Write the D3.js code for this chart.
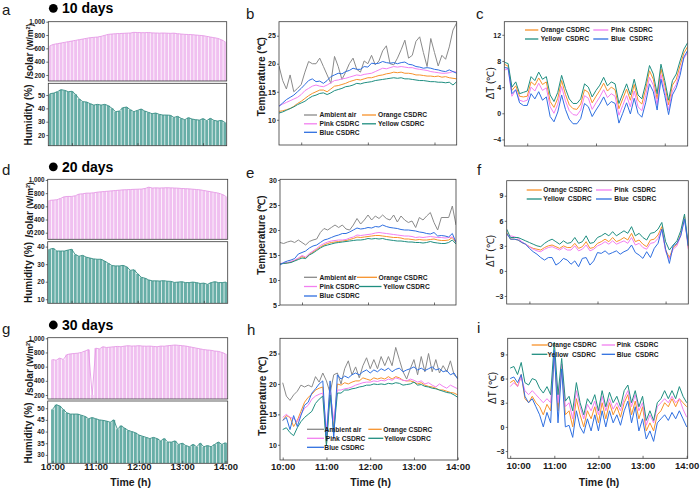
<!DOCTYPE html>
<html><head><meta charset="utf-8">
<script src="https://cdn.jsdelivr.net/npm/d3@7"></script>
<style>
body{margin:0;background:#fff;}
svg text{font-family:"Liberation Sans",Arial,Helvetica,sans-serif;}
</style></head>
<body><svg id="chart" width="700" height="488"></svg>
<script>
// ---------- DATA ----------
const minutes = [0,5,10,15,20,25,30,35,40,45,50,55,60,65,70,75,80,85,90,95,100,105,110,115,120,125,130,135,140,145,150,155,160,165,170,175,180,185,190,195,200,205,210,215,220,225,230,235,240];
const timeTicks = [0,60,120,180,240];
const timeLabels = ["10:00","11:00","12:00","13:00","14:00"];
const seriesNames = ["Ambient air","Orange CSDRC","Pink CSDRC","Yellow CSDRC","Blue CSDRC"];
const deltaNames = ["Orange CSDRC","Pink  CSDRC","Yellow  CSDRC","Blue  CSDRC"];
const dayTitles = ["10 days","20 days","30 days"];

// 10 days
const solar10 = [640,660,670,680,690,700,710,720,730,740,750,760,765,770,780,795,810,815,820,822,825,828,830,840,838,835,835,838,832,830,828,830,828,825,828,820,815,810,808,805,800,795,790,780,770,760,750,730,700];
const humid10 = [51.0,51.5,52.5,54.0,53.5,52.5,52.8,50.5,47.0,45.0,44.8,43.5,42.5,43.0,42.5,43.0,42.0,40.0,37.5,38.0,40.5,41.0,39.0,37.5,38.5,39.5,38.0,37.0,36.0,36.5,35.5,35.0,35.0,34.8,33.2,34.0,32.5,31.5,33.0,32.0,31.5,31.2,32.3,30.8,32.5,31.0,30.5,31.0,29.5];
const amb10 = [19.6,17.0,15.5,18.0,15.0,15.6,16.3,18.5,20.4,20.0,20.0,21.0,19.5,18.0,16.5,21.3,19.5,17.2,18.5,20.0,21.0,19.0,18.5,20.5,20.0,21.5,19.8,20.5,22.3,23.2,20.0,19.8,21.0,22.5,24.2,21.0,21.5,24.0,24.8,22.0,19.5,24.5,22.0,19.6,21.5,20.8,23.0,26.0,27.3];
const orange10 = [11.5,11.6,11.8,12.0,12.4,12.9,13.3,13.8,14.3,14.7,15.0,15.3,15.3,15.0,15.5,16.0,16.1,16.3,16.5,16.8,17.0,17.2,17.1,17.3,17.5,17.5,17.7,17.9,18.0,18.2,18.3,18.5,18.4,18.5,18.3,18.3,18.2,18.0,18.0,17.9,17.8,17.8,17.7,17.8,17.6,17.7,17.5,17.4,17.3];
const pink10 = [12.5,12.8,13.1,13.4,13.7,14.0,14.5,15.2,15.6,16.0,16.2,16.0,15.9,16.2,16.6,17.0,17.1,17.3,17.4,17.6,17.8,18.0,17.9,18.1,18.2,18.3,18.6,18.9,19.2,19.1,19.3,19.5,19.4,19.5,19.4,19.3,19.3,19.1,19.0,18.9,18.8,18.6,18.5,18.4,18.3,18.3,18.4,18.6,18.5];
const yellow10 = [11.2,11.4,11.7,12.0,12.3,12.7,13.0,13.3,13.8,14.2,14.4,14.7,14.8,14.5,14.8,15.2,15.4,15.6,15.9,16.0,16.2,16.5,16.4,16.6,16.7,16.8,17.0,17.1,17.2,17.3,17.4,17.5,17.4,17.5,17.3,17.3,17.2,17.1,17.0,17.0,16.9,16.8,16.8,16.7,16.7,16.6,16.7,16.2,16.8];
const blue10 = [12.4,13.0,13.6,14.0,14.4,15.0,15.6,16.3,17.0,17.3,16.8,16.9,16.5,17.0,17.7,18.0,18.3,18.2,18.6,18.8,19.2,19.0,19.0,19.5,19.4,20.1,20.0,20.1,20.4,20.2,20.1,20.2,20.0,20.2,20.3,19.9,19.8,19.5,19.4,19.2,19.3,19.2,19.0,18.9,18.7,18.6,18.9,18.6,18.3];
const dOrange10 = [7.5,7.2,3.5,4.2,2.6,2.5,2.6,4.8,4.3,5.4,4.4,4.8,1.8,0.9,2.3,5.0,2.9,1.3,0.7,0.6,1.4,3.6,3.2,1.6,2.6,3.5,4.6,3.4,4.0,3.6,0.7,2.2,3.7,2.0,4.4,2.0,1.4,3.7,6.5,5.2,2.2,6.8,4.3,1.3,4.3,5.2,7.3,9.2,10.2];
const dPink10 = [6.6,6.8,2.6,3.6,2.0,1.8,2.0,4.0,3.4,4.6,3.5,3.9,1.0,0.0,1.4,4.1,1.9,0.4,-0.2,-0.3,0.5,2.7,2.3,0.6,1.6,2.5,3.6,2.4,3.0,2.6,-0.3,1.2,2.7,1.0,3.4,1.0,0.4,2.7,5.5,4.3,1.3,5.9,3.4,0.5,3.4,4.4,6.5,8.4,9.3];
const dYellow10 = [7.8,7.6,4.0,4.8,3.0,3.2,3.4,5.6,5.0,6.3,5.2,5.6,2.8,1.8,3.2,5.8,3.8,2.2,1.5,1.5,2.2,4.5,4.0,2.5,3.5,4.3,5.5,4.2,4.8,4.5,1.5,3.0,4.5,2.8,5.2,2.8,2.2,4.5,7.3,6.0,3.0,7.5,5.0,2.0,5.0,6.0,8.0,9.8,10.8];
const dBlue10 = [7.0,6.9,3.0,3.6,1.6,1.2,1.2,3.0,2.2,3.3,2.0,2.5,-0.5,-1.3,0.2,2.8,0.6,-0.9,-1.6,-1.6,-0.8,1.5,1.0,-0.5,0.5,1.4,2.5,1.2,1.8,1.5,-1.5,0.0,1.6,-0.1,2.3,0.0,-0.6,1.6,4.5,3.3,0.5,5.2,2.7,-0.2,2.8,3.9,5.8,8.6,9.6];

// 20 days
const solar20 = [690,695,700,720,745,750,750,760,785,790,800,800,805,815,820,825,830,835,840,845,850,852,855,858,860,862,870,890,878,880,878,880,882,880,878,875,870,868,865,860,855,850,840,830,820,810,800,780,750];
const humid20 = [38.5,39.0,37.5,37.5,37.5,38.0,38.5,35.5,34.5,35.0,34.0,33.5,33.0,32.8,32.8,31.8,30.5,29.2,29.0,29.0,29.3,28.5,26.5,26.8,24.5,22.5,22.0,21.0,20.5,20.5,20.4,20.6,20.3,20.2,19.6,19.8,20.0,19.5,19.5,19.8,19.5,19.0,19.2,18.5,19.5,20.0,19.5,19.5,19.8];
const amb20 = [17.5,17.3,17.6,17.8,17.5,18.0,17.5,17.0,17.7,18.0,18.2,19.5,20.3,20.0,20.5,21.0,20.5,21.0,20.2,20.0,21.0,22.3,21.2,22.0,23.0,22.0,22.8,22.3,23.0,22.3,22.0,23.0,21.6,22.8,22.0,21.5,21.8,20.5,22.5,22.0,22.8,23.5,21.5,20.0,22.5,22.5,22.5,24.8,21.0];
const orange20 = [13.3,13.3,13.4,13.6,13.9,14.3,14.7,14.4,15.1,15.6,16.1,16.6,17.0,17.3,17.5,17.6,17.7,17.8,17.9,18.1,18.3,18.6,18.5,18.6,18.7,18.8,18.9,18.9,18.8,18.7,18.6,18.5,18.5,18.4,18.2,18.2,18.1,18.0,18.1,18.0,18.0,18.1,18.2,18.0,17.9,17.9,18.0,18.5,17.5];
const pink20 = [13.3,13.4,13.5,13.7,14.0,14.4,14.9,14.6,15.3,15.8,16.3,16.9,17.3,17.6,17.8,17.9,18.0,18.0,18.1,18.4,18.6,19.0,18.9,19.0,19.1,19.2,19.4,19.5,19.4,19.3,19.2,19.1,19.0,18.9,18.8,18.8,18.7,18.5,18.6,18.5,18.6,18.7,18.6,18.5,18.5,18.4,18.5,18.6,17.8];
const yellow20 = [13.2,13.3,13.4,13.5,13.8,14.1,14.4,14.3,15.0,15.4,15.9,16.4,16.8,17.0,17.2,17.4,17.5,17.6,17.7,17.8,17.9,18.0,18.0,18.1,18.3,18.2,18.3,18.2,18.3,18.1,18.0,17.9,17.8,17.8,17.7,17.6,17.6,17.5,17.5,17.4,17.5,17.7,17.5,17.4,17.3,17.3,17.5,18.0,17.2];
const blue20 = [13.0,13.5,13.8,14.0,14.3,15.2,15.5,15.8,16.4,16.8,17.0,17.5,18.0,18.2,18.5,18.8,19.0,19.3,19.3,19.6,20.0,20.4,20.2,20.3,20.5,20.4,20.7,20.6,21.0,20.7,20.5,20.4,20.3,20.1,20.0,20.0,19.9,19.8,19.6,19.5,19.3,19.2,19.5,18.8,18.9,18.8,18.6,19.3,17.5];
const dOrange20 = [4.6,3.8,3.8,3.7,3.4,3.2,2.9,2.7,2.6,2.5,2.8,3.0,3.1,2.9,2.7,3.0,2.8,2.8,3.3,2.7,2.9,3.5,2.7,2.8,3.3,3.5,3.8,3.5,4.0,3.5,3.7,4.0,3.7,4.5,3.5,3.7,3.2,2.9,3.7,3.8,4.3,5.3,2.5,1.6,2.8,3.2,4.4,6.5,2.8];
const dPink20 = [4.3,4.2,4.1,3.9,3.5,3.2,2.9,2.6,2.4,2.3,2.6,2.8,2.9,2.7,2.5,2.8,2.5,2.5,3.0,2.4,2.6,3.1,2.4,2.6,3.0,3.2,3.5,3.2,3.6,3.2,3.4,3.6,3.3,4.0,3.1,3.3,2.8,2.6,3.3,3.4,3.9,5.0,2.3,1.4,2.6,3.0,4.2,6.3,2.6];
const dYellow20 = [5.0,4.0,4.0,4.0,3.8,3.6,3.4,3.2,3.0,2.9,3.3,3.6,3.8,3.5,3.2,3.6,3.3,3.4,4.0,3.3,3.5,4.2,3.3,3.4,4.0,4.2,4.5,4.2,4.7,4.2,4.5,4.8,4.5,5.3,4.2,4.5,4.0,3.7,4.5,4.6,5.0,5.8,3.5,2.5,3.1,3.6,4.8,6.8,3.0];
const dBlue20 = [4.5,3.8,3.8,3.7,3.4,3.2,2.7,2.3,2.0,1.6,1.3,1.6,1.6,0.7,1.0,1.5,1.3,0.8,1.2,0.5,1.5,1.6,0.7,1.2,2.2,2.1,2.4,2.0,2.2,2.4,2.0,2.3,2.5,3.1,2.2,1.9,1.5,2.3,1.6,2.7,3.3,5.0,2.6,0.9,3.0,3.3,4.2,6.2,3.0];

// 30 days
const solar30 = [700,690,720,700,770,780,785,790,800,820,840,200,860,850,880,870,875,880,885,880,890,895,890,892,895,890,888,890,885,880,890,888,895,900,905,900,895,890,880,870,860,850,840,835,830,820,815,800,780];
const humid30 = [49.5,51.5,51.0,49.5,48.0,47.5,47.5,47.5,47.0,46.5,45.5,46.0,45.5,45.0,44.8,44.5,44.0,45.0,41.0,42.5,41.5,40.5,40.0,39.5,38.5,38.0,37.5,37.0,37.5,37.0,36.0,37.0,35.5,35.5,36.0,34.5,35.0,34.0,33.5,34.5,33.5,35.0,33.5,34.0,33.5,34.5,35.5,34.5,35.2];
const amb30 = [20.2,18.0,17.3,18.2,18.8,19.8,19.5,19.8,19.5,21.2,20.3,21.8,20.5,18.5,21.5,21.8,20.0,22.5,23.8,21.5,22.8,21.0,23.0,24.3,22.5,24.0,22.5,24.5,23.0,24.5,23.0,26.0,24.0,22.0,20.8,22.5,24.0,21.5,24.5,22.0,25.0,22.0,24.0,21.8,23.0,22.0,23.8,21.5,21.0];
const orange30 = [14.0,14.8,14.5,13.0,14.0,15.5,17.0,17.8,18.3,19.0,19.3,19.5,10.0,19.5,12.5,20.0,19.8,20.2,20.0,20.3,20.5,20.5,21.0,20.8,20.6,21.0,20.8,21.0,20.8,21.2,20.8,21.2,21.0,20.6,20.5,20.5,20.3,20.0,20.2,19.8,19.6,19.5,19.3,19.0,19.0,18.8,18.6,18.5,18.2];
const pink30 = [14.5,15.0,14.5,14.3,13.8,15.0,16.0,16.5,17.5,18.0,18.3,18.5,12.5,18.8,14.0,19.0,19.0,19.2,19.3,19.5,19.8,20.0,20.2,20.3,20.3,20.5,20.4,20.6,20.5,20.8,20.6,21.0,20.8,20.6,20.5,20.8,20.6,20.3,20.5,20.0,20.2,19.8,19.5,20.0,19.6,19.3,19.8,19.5,19.2];
const yellow30 = [12.5,12.8,12.0,11.5,12.8,13.8,14.5,15.0,15.5,16.8,17.5,18.0,9.8,18.2,12.0,18.5,18.5,19.0,19.0,19.2,19.3,19.5,19.6,19.8,19.8,20.0,19.9,20.0,19.9,20.1,20.0,20.2,20.1,19.8,19.9,20.0,20.3,19.8,19.9,19.6,19.5,19.3,19.2,19.0,18.8,18.6,18.5,18.2,17.8];
const blue30 = [14.0,14.5,12.5,14.8,13.0,14.8,16.5,17.0,18.5,19.2,20.0,20.5,10.8,20.5,11.0,21.5,20.8,21.3,21.0,21.5,21.8,21.5,22.0,22.3,21.8,22.3,22.0,22.5,22.2,22.6,22.0,22.4,22.6,22.0,22.3,22.5,22.8,22.3,22.6,22.2,22.5,22.8,22.3,22.5,22.0,22.2,21.5,21.8,20.8];
const dOrange30 = [5.5,5.8,5.0,6.5,3.5,3.0,3.8,3.0,2.5,1.5,2.8,2.0,9.0,2.0,7.5,1.5,2.0,0.0,3.5,1.5,0.0,2.0,1.0,2.5,0.5,3.0,1.0,3.0,1.5,2.5,1.2,3.0,4.0,1.5,3.2,1.0,2.5,-0.5,0.5,-0.5,1.5,2.0,3.0,2.5,3.5,2.5,3.5,3.0,2.5];
const dPink30 = [5.0,5.5,5.0,6.2,4.5,4.0,4.5,4.0,3.5,3.0,3.5,3.0,9.2,3.0,7.8,2.5,3.0,1.0,4.5,2.5,1.0,2.8,2.0,3.2,1.5,3.8,2.0,3.5,2.2,3.0,2.0,3.5,4.5,2.5,4.0,2.0,3.0,0.2,1.5,0.5,2.5,3.0,3.5,3.0,3.8,3.0,3.5,2.2,1.2];
const dYellow30 = [7.3,7.5,6.5,8.0,5.5,5.2,6.0,5.8,4.8,4.2,5.0,4.0,10.5,4.0,8.5,3.2,3.8,2.0,5.5,3.0,1.5,3.5,2.8,4.0,2.0,4.5,2.5,4.3,3.0,3.8,2.5,4.5,5.2,3.0,4.5,2.5,3.8,0.8,2.0,0.8,3.0,3.5,4.5,3.5,4.5,3.5,5.0,3.8,3.0];
const dBlue30 = [6.0,6.2,5.5,6.5,3.8,3.0,3.5,2.5,1.5,0.0,1.8,0.5,9.5,0.5,7.2,0.0,0.2,-1.3,2.0,0.0,-0.8,1.0,-0.5,1.5,-0.5,2.0,0.0,2.0,0.5,1.5,0.2,2.0,3.2,0.5,2.5,-0.5,1.0,-1.5,-0.5,-1.8,0.5,1.0,1.5,0.8,1.8,1.0,2.0,1.0,0.0];

// ---------- DRAWING ----------
const svg = d3.select("#chart");
const COL = {amb:"#8a8a8a", orange:"#f7922b", pink:"#f27ff0", yellow:"#1f8e80", blue:"#2f6fe0"};
const INK = "#1a1a1a";
let clipN = 0;

function frame(b){
  svg.append("rect").attr("x",b.x0).attr("y",b.y0).attr("width",b.x1-b.x0).attr("height",b.y1-b.y0)
    .attr("fill","none").attr("stroke","#3a3a3a").attr("stroke-width",0.8);
}
function clipFor(b){
  const id = "cp"+(clipN++);
  svg.append("clipPath").attr("id",id).append("rect")
    .attr("x",b.x0).attr("y",b.y0).attr("width",b.x1-b.x0).attr("height",b.y1-b.y0);
  return "url(#"+id+")";
}
function yAxis(y, x0, ticks, fs){
  const g = svg.append("g").attr("transform",`translate(${x0},0)`)
    .call(d3.axisLeft(y).tickValues(ticks).tickSizeInner(2).tickSizeOuter(0).tickPadding(1.2));
  g.select(".domain").remove();
  g.selectAll("line").attr("stroke","#333").attr("stroke-width",0.7);
  g.selectAll("text").attr("font-size",fs).attr("font-weight","bold").attr("fill",INK)
    .attr("font-family","Liberation Sans, Arial, sans-serif");
}
function xTicksPlain(x, y0, vals){
  const g = svg.append("g").attr("transform",`translate(0,${y0})`)
    .call(d3.axisBottom(x).tickValues(vals).tickFormat("").tickSizeInner(-2.5).tickSizeOuter(0));
  g.select(".domain").remove();
  g.selectAll("line").attr("stroke","#333").attr("stroke-width",0.7);
}
function xTime(x, y0, pad, nudge){
  const g = svg.append("g").attr("transform",`translate(0,${y0})`)
    .call(d3.axisBottom(x).tickValues(timeTicks).tickFormat((d,i)=>timeLabels[i])
      .tickSizeInner(-2.5).tickSizeOuter(0).tickPadding(pad));
  g.select(".domain").remove();
  g.selectAll("line").attr("stroke","#333").attr("stroke-width",0.7);
  g.selectAll("text").attr("font-size",9.5).attr("font-weight","bold").attr("fill",INK)
    .attr("font-family","Liberation Sans, Arial, sans-serif")
    .attr("dx",(d,i)=> i===0 ? nudge : 0);
}
function bars(x, y, vals, b, fill, edge){
  const step = x(5)-x(0), w = step*0.8;
  const g = svg.append("g").attr("clip-path",clipFor(b));
  g.selectAll("rect").data(vals).join("rect")
    .attr("x",(d,i)=>x(minutes[i])-w/2).attr("width",w)
    .attr("y",d=>y(d)).attr("height",d=>b.y1-y(d)).attr("fill",fill);
  g.append("path").datum(vals)
    .attr("d",d3.line().x((d,i)=>x(minutes[i])).y(d=>y(d)))
    .attr("fill","none").attr("stroke",edge).attr("stroke-width",0.9);
}
function lines(x, y, list, b){
  const g = svg.append("g").attr("clip-path",clipFor(b));
  list.forEach(([vals,c])=>{
    g.append("path").datum(vals)
      .attr("d",d3.line().x((d,i)=>x(minutes[i])).y(d=>y(d)))
      .attr("fill","none").attr("stroke",c).attr("stroke-width",1).attr("stroke-linejoin","round");
  });
}
function legend(items){
  items.forEach(([x1,x2,yy,tx,label,c])=>{
    svg.append("line").attr("x1",x1).attr("x2",x2).attr("y1",yy).attr("y2",yy)
      .attr("stroke",c).attr("stroke-width",1.3);
    svg.append("text").attr("x",tx).attr("y",yy+2.4).text(label)
      .attr("font-size",6.7).attr("font-weight","bold").attr("fill",INK)
      .style("white-space","pre");
  });
}
function rotTitle(x, y){
  return svg.append("text").attr("transform",`translate(${x},${y}) rotate(-90)`)
    .attr("text-anchor","middle").attr("fill",INK);
}
function solarTitle(x,y){
  const t = rotTitle(x,y).attr("font-weight","bold");
  t.append("tspan").text("I").attr("font-style","italic").attr("font-size",10);
  t.append("tspan").text("solar").attr("font-size",10);
  t.append("tspan").text(" (W/m").attr("font-size",8.5);
  t.append("tspan").text("2").attr("font-size",5.5).attr("dy",-3);
  t.append("tspan").text(")").attr("font-size",8.5).attr("dy",3);
}
function humTitle(x,y){ rotTitle(x,y).attr("font-weight","bold").attr("font-size",10).text("Humidity (%)"); }
function tempTitle(x,y){ rotTitle(x,y).attr("font-weight","bold").attr("font-size",10).text("Temperature (℃)"); }
function dtTitle(x,y){ rotTitle(x,y).attr("font-size",10).text("ΔT (℃)"); }
function letter(x,y,s){ svg.append("text").attr("x",x).attr("y",y).attr("font-size",15).attr("fill",INK).text(s); }
function dayTitle(cy, s){
  svg.append("circle").attr("cx",53.3).attr("cy",cy).attr("r",4.4).attr("fill","#000");
  svg.append("text").attr("x",62).attr("y",cy+4.8).attr("font-size",14).attr("font-weight","bold").attr("fill","#000").text(s);
}
function timeTitle(x){
  svg.append("text").attr("x",x).attr("y",485.5).attr("text-anchor","middle")
    .attr("font-size",10.5).attr("font-weight","bold").attr("fill",INK).text("Time (h)");
}

const SOLAR_FILL="#f0c0f0", SOLAR_EDGE="#e59be5", HUM_FILL="#68aea7", HUM_EDGE="#3a8f86";
const solarTicks=[200,400,600,800,1000];
const plainTicks=[30,120,210];

// ===== Row 1 =====
{
  const bS={x0:48.3,x1:226.7,y0:21.7,y1:81}, bH={x0:48.3,x1:226.7,y0:83.3,y1:145.7};
  const xa=d3.scaleLinear().domain([-2.5,242.5]).range([bS.x0,bS.x1]);
  const yS=d3.scaleLinear().domain([110,1000]).range([bS.y1,bS.y0]);
  const yH=d3.scaleLinear().domain([12,58.8]).range([bH.y1,bH.y0]);
  bars(xa,yS,solar10,bS,SOLAR_FILL,SOLAR_EDGE);
  bars(xa,yH,humid10,bH,HUM_FILL,HUM_EDGE);
  frame(bS); frame(bH);
  yAxis(yS,bS.x0,solarTicks,6.3); yAxis(yH,bH.x0,[20,30,40,50],6.5);
  xTicksPlain(xa,bH.y1,plainTicks);
  solarTitle(33,51.5); humTitle(31.5,115);

  const bB={x0:279,x1:456.7,y0:21.7,y1:145};
  const xb=d3.scaleLinear().domain([0,240]).range([bB.x0,bB.x1]);
  const yb=d3.scaleLinear().domain([5.5,27.5]).range([bB.y1,bB.y0]);
  lines(xb,yb,[[amb10,COL.amb],[orange10,COL.orange],[pink10,COL.pink],[yellow10,COL.yellow],[blue10,COL.blue]],bB);
  frame(bB); yAxis(yb,bB.x0,[10,15,20,25],7); xTicksPlain(xb,bB.y1,plainTicks);
  tempTitle(265,76.7);
  legend([[304,317,115,319.5,seriesNames[0],COL.amb],[362,376,115,378,seriesNames[1],COL.orange],
          [304,317,123.8,319.5,seriesNames[2],COL.pink],[362,376,123.8,378,seriesNames[3],COL.yellow],
          [304,317,132.3,319.5,seriesNames[4],COL.blue]]);

  const bC={x0:504.3,x1:687.7,y0:21.7,y1:146};
  const xc=d3.scaleLinear().domain([0,240]).range([bC.x0,bC.x1]);
  const yc=d3.scaleLinear().domain([-5,14]).range([bC.y1,bC.y0]);
  lines(xc,yc,[[dOrange10,COL.orange],[dPink10,COL.pink],[dYellow10,COL.yellow],[dBlue10,COL.blue]],bC);
  frame(bC); yAxis(yc,bC.x0,[-4,0,4,8,12],7); xTicksPlain(xc,bC.y1,plainTicks);
  dtTitle(494,83.3);
  legend([[525,538.3,30,540.7,deltaNames[0],COL.orange],[593.3,608.3,30,611,deltaNames[1],COL.pink],
          [525,538.3,39,540.7,deltaNames[2],COL.yellow],[593.3,608.3,39,611,deltaNames[3],COL.blue]]);

  letter(2,15,"a"); letter(246,19,"b"); letter(476,18.5,"c");
  dayTitle(8.3,dayTitles[0]);
}

// ===== Row 2 =====
{
  const bS={x0:47.7,x1:227.7,y0:179.3,y1:239.3}, bH={x0:47.7,x1:227.7,y0:241.7,y1:303.3};
  const xa=d3.scaleLinear().domain([-2.5,242.5]).range([bS.x0,bS.x1]);
  const yS=d3.scaleLinear().domain([100,1010]).range([bS.y1,bS.y0]);
  const yH=d3.scaleLinear().domain([7.7,42.8]).range([bH.y1,bH.y0]);
  bars(xa,yS,solar20,bS,SOLAR_FILL,SOLAR_EDGE);
  bars(xa,yH,humid20,bH,HUM_FILL,HUM_EDGE);
  frame(bS); frame(bH);
  yAxis(yS,bS.x0,solarTicks,6.3); yAxis(yH,bH.x0,[10,20,30,40],6.5);
  xTicksPlain(xa,bH.y1,plainTicks);
  solarTitle(33,210); humTitle(31.5,272.5);

  const bE={x0:280,x1:456,y0:179.3,y1:305};
  const xe=d3.scaleLinear().domain([0,240]).range([bE.x0,bE.x1]);
  const ye=d3.scaleLinear().domain([5,30]).range([305,180]);
  lines(xe,ye,[[amb20,COL.amb],[orange20,COL.orange],[pink20,COL.pink],[yellow20,COL.yellow],[blue20,COL.blue]],bE);
  frame(bE); yAxis(ye,bE.x0,[5,10,15,20,25,30],7); xTicksPlain(xe,bE.y1,plainTicks);
  tempTitle(265,235);
  legend([[304,317,277.3,319.5,seriesNames[0],COL.amb],[357,377,277.3,378.5,seriesNames[1],COL.orange],
          [304,317,286.5,319.5,seriesNames[2],COL.pink],[359,381.5,286.5,383.3,seriesNames[3],COL.yellow],
          [304,317,296,319.5,seriesNames[4],COL.blue]]);

  const bF={x0:506.7,x1:688.3,y0:180.7,y1:304};
  const xf=d3.scaleLinear().domain([0,240]).range([bF.x0,bF.x1]);
  const yf=d3.scaleLinear().domain([-3.96,10.8]).range([bF.y1,bF.y0]);
  lines(xf,yf,[[dOrange20,COL.orange],[dPink20,COL.pink],[dYellow20,COL.yellow],[dBlue20,COL.blue]],bF);
  frame(bF); yAxis(yf,bF.x0,[-3,0,3,6,9],7); xTicksPlain(xf,bF.y1,plainTicks);
  dtTitle(494,251);
  legend([[526.7,541.7,190,543.3,deltaNames[0],COL.orange],[596,611.7,190,614.3,deltaNames[1],COL.pink],
          [526.7,541.7,199,543.3,deltaNames[2],COL.yellow],[596,611.7,199,614.3,deltaNames[3],COL.blue]]);

  letter(2,175,"d"); letter(246,178.3,"e"); letter(477,175,"f");
  dayTitle(166.8,dayTitles[1]);
}

// ===== Row 3 =====
{
  const bS={x0:47.7,x1:227.7,y0:337.7,y1:399}, bH={x0:47.7,x1:227.7,y0:401,y1:463.3};
  const xg=d3.scaleLinear().domain([0,240]).range([52.5,225.5]);
  const yS=d3.scaleLinear().domain([144,1008]).range([bS.y1,bS.y0]);
  const yH=d3.scaleLinear().domain([26.4,53.1]).range([bH.y1,bH.y0]);
  bars(xg,yS,solar30,bS,SOLAR_FILL,SOLAR_EDGE);
  bars(xg,yH,humid30,bH,HUM_FILL,HUM_EDGE);
  frame(bS); frame(bH);
  yAxis(yS,bS.x0,solarTicks,6.3); yAxis(yH,bH.x0,[30,35,40,45,50],6.5);
  xTime(xg,bH.y1,0.3,0);
  solarTitle(33,368); humTitle(31.5,433);
  timeTitle(130.7);

  const bHh={x0:280,x1:457.7,y0:338.3,y1:460};
  const xh=d3.scaleLinear().domain([0,240]).range([282.7,457.7]);
  const yh=d3.scaleLinear().domain([7.5,27.5]).range([bHh.y1,bHh.y0]);
  lines(xh,yh,[[amb30,COL.amb],[orange30,COL.orange],[pink30,COL.pink],[yellow30,COL.yellow],[blue30,COL.blue]],bHh);
  frame(bHh); yAxis(yh,bHh.x0,[10,15,20,25],7); xTime(xh,bHh.y1,3.3,0);
  tempTitle(265.5,396);
  timeTitle(370.7);
  legend([[307,324,429.3,324.5,seriesNames[0],COL.amb],[368.3,381.7,429.3,383.3,seriesNames[1],COL.orange],
          [307,324,438.3,325.7,seriesNames[2],COL.pink],[368.3,383.3,438.3,384.3,seriesNames[3],COL.yellow],
          [307,324,447.3,324.3,seriesNames[4],COL.blue]]);

  const bI={x0:507.7,x1:687.7,y0:338.3,y1:458.3};
  const xi=d3.scaleLinear().domain([0,240]).range([510.2,686.7]);
  const yi=d3.scaleLinear().domain([-3.9,11]).range([bI.y1,bI.y0]);
  lines(xi,yi,[[dOrange30,COL.orange],[dPink30,COL.pink],[dYellow30,COL.yellow],[dBlue30,COL.blue]],bI);
  frame(bI); yAxis(yi,bI.x0,[-3,0,3,6,9],7); xTime(xi,bI.y1,4,8);
  dtTitle(495.5,388);
  timeTitle(599);
  legend([[531.7,547.3,345,547.5,deltaNames[0],COL.orange],[601.7,615,345,616.7,deltaNames[1],COL.pink],
          [531.7,547.3,354.3,547.5,deltaNames[2],COL.yellow],[601.7,615,354.3,616.7,deltaNames[3],COL.blue]]);

  letter(2,333.5,"g"); letter(247,335,"h"); letter(477,333,"i");
  dayTitle(325,dayTitles[2]);
}
</script>
</body></html>
